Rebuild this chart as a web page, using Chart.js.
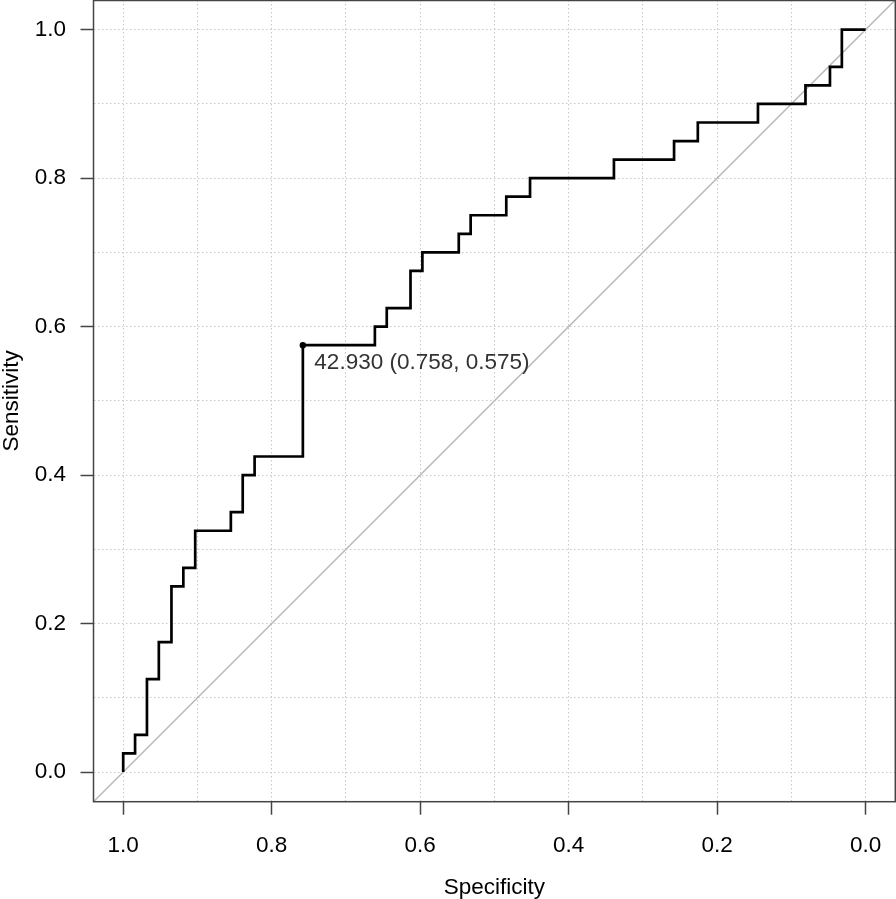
<!DOCTYPE html>
<html>
<head>
<meta charset="utf-8">
<script src="https://cdn.jsdelivr.net/npm/chart.js@4.4.1/dist/chart.umd.min.js"></script>
<style>
  html, body { margin: 0; padding: 0; background: #ffffff; overflow: hidden; }
  #wrap { position: absolute; left: 0; top: 0; width: 896px; height: 899px; }
</style>
</head>
<body>
<div id="wrap"><canvas id="c"></canvas></div>
<script>
// ROC curve corner points (specificity, sensitivity)
const specificity = [1.000, 1.000, 0.984, 0.984, 0.968, 0.968, 0.952, 0.952, 0.935, 0.935,
  0.919, 0.919, 0.903, 0.903, 0.855, 0.855, 0.839, 0.839, 0.823, 0.823,
  0.758, 0.758, 0.661, 0.661, 0.645, 0.645, 0.613, 0.613, 0.597, 0.597,
  0.548, 0.548, 0.532, 0.532, 0.484, 0.484, 0.452, 0.452, 0.339, 0.339,
  0.258, 0.258, 0.226, 0.226, 0.145, 0.145, 0.081, 0.081, 0.048, 0.048,
  0.032, 0.032, 0.000];
const sensitivity = [0.000, 0.025, 0.025, 0.050, 0.050, 0.125, 0.125, 0.175, 0.175, 0.250,
  0.250, 0.275, 0.275, 0.325, 0.325, 0.350, 0.350, 0.400, 0.400, 0.425,
  0.425, 0.575, 0.575, 0.600, 0.600, 0.625, 0.625, 0.675, 0.675, 0.700,
  0.700, 0.725, 0.725, 0.750, 0.750, 0.775, 0.775, 0.800, 0.800, 0.825,
  0.825, 0.850, 0.850, 0.875, 0.875, 0.900, 0.900, 0.925, 0.925, 0.950,
  0.950, 1.000, 1.000];

// Best threshold annotation
const bestThreshold = [42.930];
const bestSpecificity = [0.758];
const bestSensitivity = [0.575];

// Chance diagonal (sensitivity = 1 - specificity)
const diagonalSpecificity = [1.04, -0.04];
const diagonalSensitivity = [-0.04, 1.04];

// Axes
const axisMin = -0.04, axisMax = 1.04;
const gridValues = [0.0, 0.1, 0.2, 0.3, 0.4, 0.5, 0.6, 0.7, 0.8, 0.9, 1.0];
const tickLabels = ['0.0', '0.2', '0.4', '0.6', '0.8', '1.0'];
const xTitle = 'Specificity';
const yTitle = 'Sensitivity';

const FONT = "'Liberation Sans', Arial, Helvetica, sans-serif";
const labelFor = v => {
  const hit = tickLabels.find(t => Math.abs(parseFloat(t) - v) < 1e-6);
  return hit === undefined ? '' : hit;
};
const setTicks = scale => { scale.ticks = gridValues.map(v => ({ value: v })); };

const rocPoints = specificity.map((s, i) => ({ x: s, y: sensitivity[i] }));
const diagPoints = diagonalSpecificity.map((s, i) => ({ x: s, y: diagonalSensitivity[i] }));
const bestPoints = bestSpecificity.map((s, i) => ({ x: s, y: bestSensitivity[i] }));

const boxPlugin = {
  id: 'boxAndLabel',
  afterDatasetsDraw(chart) {
    const { ctx, chartArea: a } = chart;
    ctx.save();
    ctx.strokeStyle = '#444444';
    ctx.lineWidth = 1.5;
    ctx.strokeRect(a.left, a.top + 0.5, a.right - a.left, a.bottom - a.top - 0.5);
    const meta = chart.getDatasetMeta(0);
    meta.data.forEach((pt, i) => {
      ctx.font = '22.5px ' + FONT;
      ctx.fillStyle = '#333333';
      ctx.textAlign = 'left';
      ctx.textBaseline = 'alphabetic';
      const txt = bestThreshold[i].toFixed(3) + ' (' + bestSpecificity[i].toFixed(3) + ', ' + bestSensitivity[i].toFixed(3) + ')';
      ctx.fillText(txt, pt.x + 11.5, pt.y + 24);
    });
    ctx.restore();
  }
};

const gridCommon = {
  color: '#c8c8c8',
  lineWidth: 1,
  drawTicks: true,
  tickLength: 13,
  tickWidth: 1.5,
  tickBorderDash: [],
  tickColor: ctx => (ctx.tick && labelFor(ctx.tick.value) !== '') ? '#444444' : 'rgba(0,0,0,0)'
};
const borderCommon = { display: false, dash: [1.5, 2.5] };

new Chart(document.getElementById('c'), {
  type: 'scatter',
  data: {
    datasets: [
      {
        label: 'best',
        data: bestPoints,
        showLine: false,
        pointRadius: 3.2,
        pointBackgroundColor: '#000000',
        pointBorderColor: '#000000',
        pointBorderWidth: 0,
        order: 0
      },
      {
        label: 'ROC',
        data: rocPoints,
        showLine: true,
        borderColor: '#000000',
        borderWidth: 2.7,
        pointRadius: 0,
        tension: 0,
        borderJoinStyle: 'miter',
        order: 1
      },
      {
        label: 'diagonal',
        data: diagPoints,
        showLine: true,
        borderColor: '#b8b8b8',
        borderWidth: 1.5,
        pointRadius: 0,
        order: 2
      }
    ]
  },
  options: {
    responsive: true,
    maintainAspectRatio: false,
    animation: false,
    layout: { padding: { top: 0, left: 0, bottom: 0, right: 0.7 }, autoPadding: false },
    plugins: { legend: { display: false }, tooltip: { enabled: false } },
    scales: {
      x: {
        type: 'linear',
        reverse: true,
        min: axisMin,
        max: axisMax,
        afterBuildTicks: setTicks,
        afterFit: s => { s.height = 97.3; s.paddingLeft = 0; s.paddingRight = 0; },
        border: borderCommon,
        grid: gridCommon,
        ticks: {
          autoSkip: false,
          maxRotation: 0,
          padding: 17.5,
          color: '#000000',
          font: { family: FONT, size: 22.5 },
          callback: v => labelFor(v)
        },
        title: {
          display: true,
          text: xTitle,
          color: '#000000',
          font: { family: FONT, size: 22.5, lineHeight: 1 },
          padding: { top: 0, bottom: 0 }
        }
      },
      y: {
        type: 'linear',
        min: axisMin,
        max: axisMax,
        afterBuildTicks: setTicks,
        afterFit: s => { s.width = 93.5; s.paddingTop = 0; s.paddingBottom = 0; },
        border: borderCommon,
        grid: gridCommon,
        ticks: {
          autoSkip: false,
          padding: 14.5,
          color: '#000000',
          font: { family: FONT, size: 22.5 },
          callback: v => labelFor(v)
        },
        title: {
          display: true,
          text: yTitle,
          color: '#000000',
          font: { family: FONT, size: 22.5, lineHeight: 1 },
          padding: { top: 1, bottom: 0 }
        }
      }
    }
  },
  plugins: [boxPlugin]
});
</script>
</body>
</html>
